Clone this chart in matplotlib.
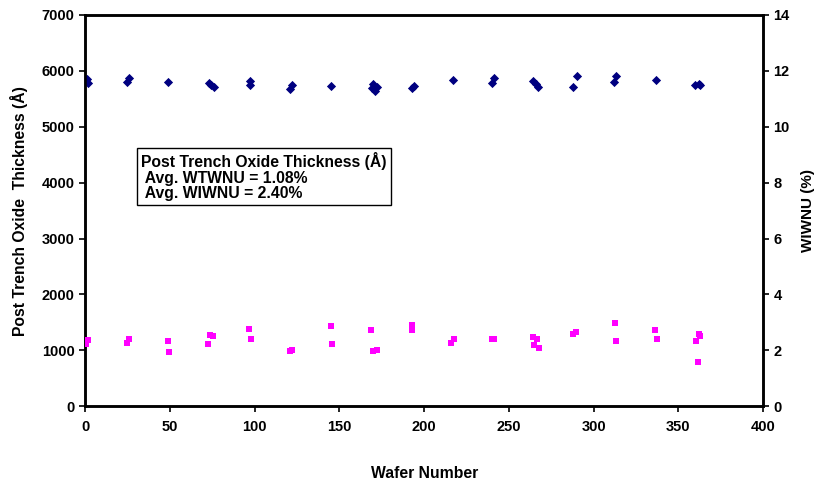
import matplotlib
matplotlib.use("Agg")
import matplotlib.pyplot as plt

plt.rcParams['font.family'] = ['Liberation Sans', 'DejaVu Sans']
plt.rcParams['font.weight'] = 'bold'

# thickness (Angstrom) per wafer - left axis
thk_wafer = [1, 2, 25, 26, 49, 73, 74, 76, 97, 97, 121, 122, 145, 169, 170, 171, 172,
             193, 194, 217, 240, 241, 264, 266, 267, 288, 290, 312, 313, 337, 360, 362, 363]
thk_value = [5850, 5780, 5800, 5870, 5800, 5790, 5750, 5720, 5820, 5750, 5680, 5740, 5730,
             5700, 5760, 5640, 5720, 5690, 5730, 5840, 5790, 5880, 5820, 5760, 5720,
             5715, 5910, 5800, 5910, 5840, 5740, 5760, 5750]

# within-wafer non-uniformity (%) - right axis
nu_wafer = [0.5, 2, 24.7, 26, 49, 49.5, 72.5, 73.6, 75.4, 96.6, 97.8, 121, 122, 145, 145.5,
            168.5, 170, 172, 192.6, 193, 216, 217.4, 240, 241, 264.5, 265, 266.7, 267.5,
            288, 289.3, 312.6, 313.4, 336.4, 337.4, 360.4, 361.5, 362, 363]
nu_value = [2.22, 2.36, 2.26, 2.40, 2.33, 1.93, 2.22, 2.54, 2.52, 2.76, 2.40, 1.99, 2.02,
            2.88, 2.22, 2.73, 1.99, 2.02, 2.72, 2.90, 2.27, 2.40, 2.41, 2.42, 2.48, 2.19,
            2.41, 2.08, 2.58, 2.65, 2.98, 2.34, 2.71, 2.40, 2.35, 1.59, 2.58, 2.53]

fig = plt.figure(figsize=(8.18, 4.83), dpi=100)
ax = fig.add_axes([0.104, 0.159, 0.829, 0.810])
ax2 = ax.twinx()

ax.scatter(thk_wafer, thk_value, marker='D', s=22, color='#000080', linewidths=0, zorder=3)
ax2.scatter(nu_wafer, nu_value, marker='s', s=22, color='#FF00FF', linewidths=0, zorder=3)

ax.set_xlim(0, 400)
ax.set_ylim(0, 7000)
ax2.set_ylim(0, 14)
ax.set_xticks(range(0, 401, 50))
ax.set_yticks(range(0, 7001, 1000))
ax2.set_yticks(range(0, 15, 2))

for a in (ax, ax2):
    for sp in a.spines.values():
        sp.set_linewidth(1.8)
    a.tick_params(direction='out', length=4, width=1.2, labelsize=10.5)
ax.tick_params(axis='x', pad=6)

ax.set_xlabel("Wafer Number", fontsize=11.3, fontweight='bold', labelpad=23)
ax.set_ylabel("Post Trench Oxide  Thickness (Å)", fontsize=11.3, fontweight='bold', labelpad=10)
ax2.set_ylabel("WIWNU (%)", fontsize=11, fontweight='bold', labelpad=8)

ax.text(0.083, 0.650, "Post Trench Oxide Thickness (Å)\n Avg. WTWNU = 1.08%\n Avg. WIWNU = 2.40%   ",
        transform=ax.transAxes, fontsize=11.3, fontweight='bold', va='top', ha='left',
        linespacing=1.05,
        bbox=dict(boxstyle='square,pad=0.25', facecolor='white', edgecolor='black', linewidth=1.0))

fig.savefig("out.png", dpi=100)
